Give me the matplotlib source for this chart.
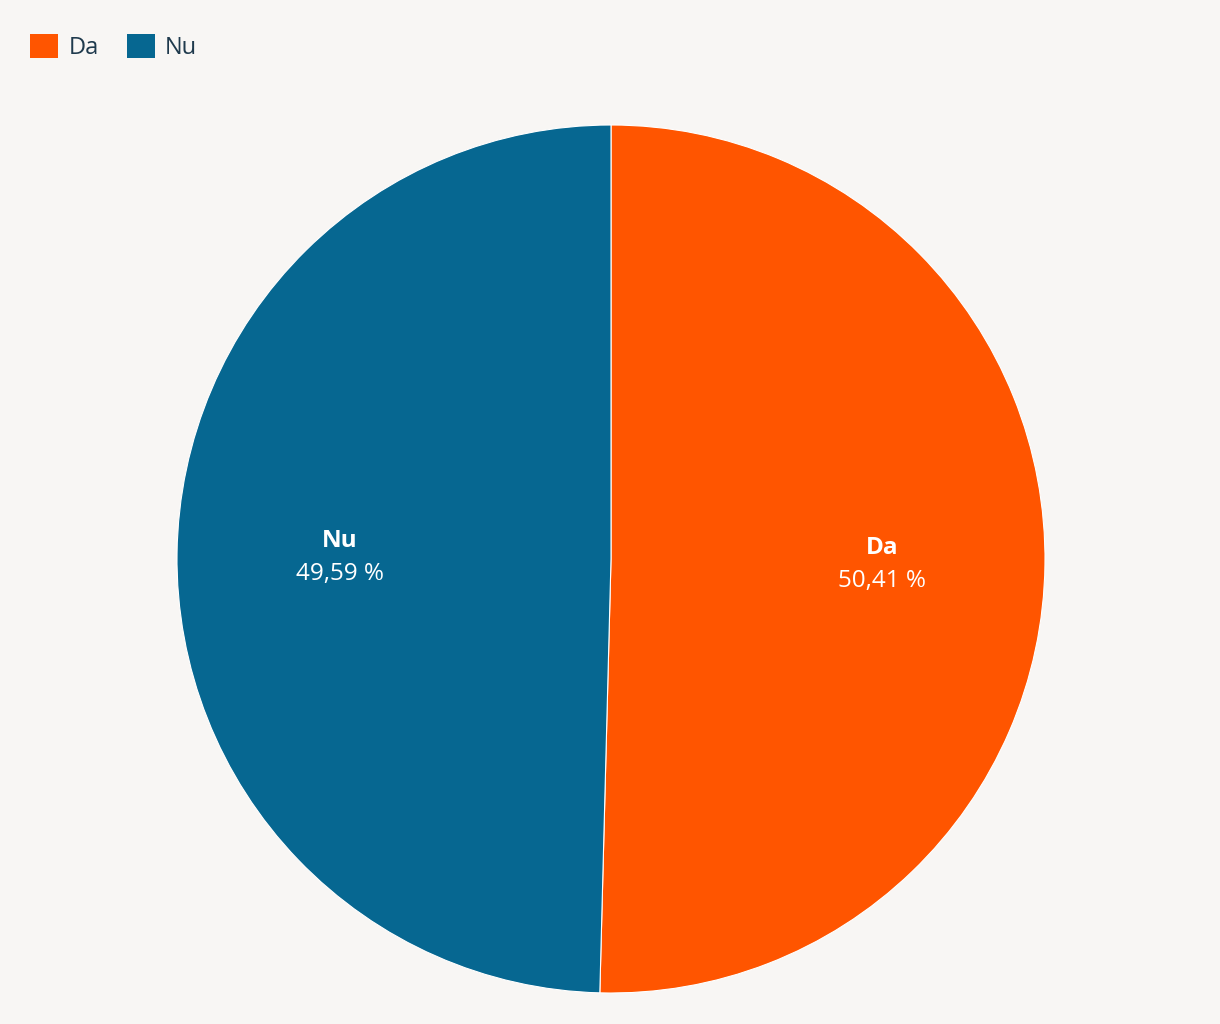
import numpy as np
import matplotlib
matplotlib.use("Agg")
import matplotlib.pyplot as plt

categories = ["Da", "Nu"]
values = [50.41, 49.59]
colors = ["#FF5500", "#066791"]
value_labels = ["50,41 %", "49,59 %"]

plt.rcParams['font.family'] = ['Open Sans', 'DejaVu Sans']
bg = "#F8F6F4"
W, H = 1220, 1024
fig = plt.figure(figsize=(W / 100, H / 100), dpi=100, facecolor=bg)

cx, cy, r = 611, 559, 434
ax = fig.add_axes([(cx - r) / W, (H - cy - r) / H, 2 * r / W, 2 * r / H])
ax.set_facecolor(bg)
wedges, _ = ax.pie(values, colors=colors, startangle=90, counterclock=False,
                   radius=1, wedgeprops=dict(edgecolor="white", linewidth=0.8))
ax.set_xlim(-1, 1)
ax.set_ylim(-1, 1)
ax.set_aspect("equal")
ax.axis("off")

for w, cat, lab in zip(wedges, categories, value_labels):
    ang = np.deg2rad((w.theta1 + w.theta2) / 2)
    x, y = 0.625 * np.cos(ang), 0.625 * np.sin(ang)
    ax.text(x, y + 0.033, cat, ha="center", va="center", color="white",
            fontsize=17.5, fontweight="bold")
    ax.text(x, y - 0.043, lab, ha="center", va="center", color="white",
            fontsize=17.5)

leg = fig.legend(wedges, categories, loc="upper left", bbox_to_anchor=(0.0073, 0.988),
                 ncol=2, frameon=False, fontsize=17, handlelength=1.2, handleheight=1.2,
                 handletextpad=0.42, columnspacing=1.2, labelcolor="#1F3A4D")
for h in leg.legend_handles:
    h.set_edgecolor("none")

fig.savefig("out.png", dpi=100, facecolor=bg)
